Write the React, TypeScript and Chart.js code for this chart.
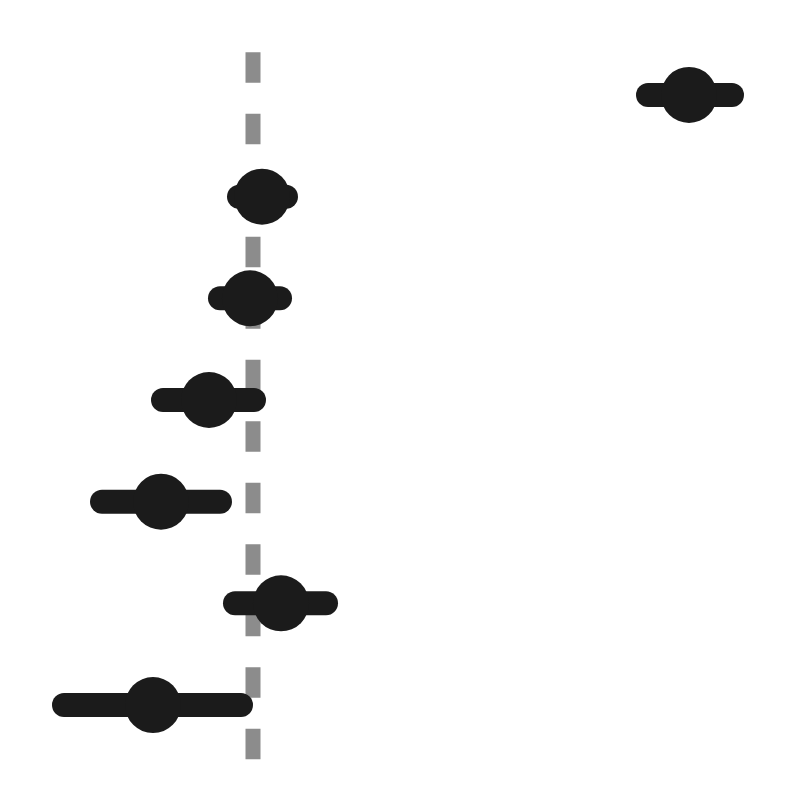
import React, { useRef, useEffect } from "react";
import Chart from "chart.js/auto";

// rows from top to bottom
const rows = [0, 1, 2, 3, 4, 5, 6];
const estimates = [4.36, 0.09, -0.03, -0.44, -0.92, 0.28, -1.0];
const lower = [3.95, -0.14, -0.33, -0.9, -1.51, -0.18, -1.89];
const upper = [4.79, 0.33, 0.27, 0.01, -0.33, 0.73, -0.12];

const refValue = 0;
const refSpan = [-0.42, 6.54];

const INK = "#1b1b1b";
const REF = "#8c8c8c";

const App: React.FC = () => {
  const canvasRef = useRef<HTMLCanvasElement | null>(null);
  const chartRef = useRef<Chart | null>(null);

  useEffect(() => {
    if (!canvasRef.current) return;

    const bars = rows.map((r) => ({
      data: [
        { x: lower[r], y: r },
        { x: upper[r], y: r },
      ],
      showLine: true,
      borderColor: INK,
      borderWidth: 24,
      borderCapStyle: "round" as const,
      pointRadius: 0,
      order: 1,
    }));

    chartRef.current = new Chart(canvasRef.current, {
      type: "scatter",
      data: {
        datasets: [
          {
            data: rows.map((r) => ({ x: estimates[r], y: r })),
            backgroundColor: INK,
            borderWidth: 0,
            pointRadius: 28,
            pointHoverRadius: 28,
            order: 0,
          },
          ...bars,
          {
            data: [
              { x: refValue, y: refSpan[0] },
              { x: refValue, y: refSpan[1] },
            ],
            showLine: true,
            borderColor: REF,
            borderWidth: 15,
            borderDash: [30.5, 31],
            borderCapStyle: "butt",
            pointRadius: 0,
            order: 2,
          },
        ],
      },
      options: {
        animation: false,
        responsive: true,
        maintainAspectRatio: false,
        layout: { padding: 0, autoPadding: false },
        scales: {
          x: { type: "linear", min: -2.53, max: 5.47, display: false },
          y: { type: "linear", min: -0.934, max: 6.934, reverse: true, display: false },
        },
        plugins: { legend: { display: false }, tooltip: { enabled: false } },
        events: [],
      },
    });

    return () => chartRef.current?.destroy();
  }, []);

  return (
    <div style={{ position: "fixed", left: 0, top: 0, width: 800, height: 800, background: "#fff" }}>
      <canvas ref={canvasRef} />
    </div>
  );
};

export default App;
